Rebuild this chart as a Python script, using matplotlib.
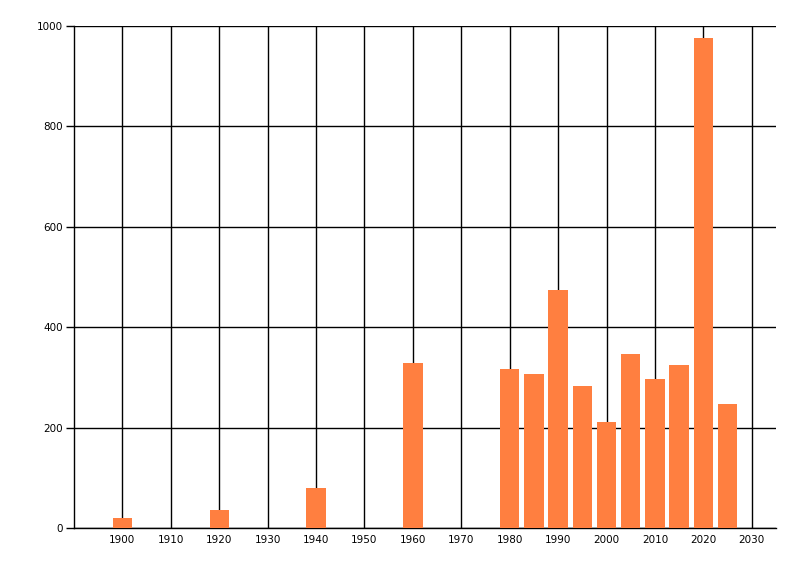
import matplotlib.pyplot as plt
import numpy as np

years = [1900, 1920, 1940, 1960, 1980, 1985, 1990, 1995, 2000, 2005, 2010, 2015, 2020, 2025]
counts = [20, 36, 80, 329, 317, 307, 474, 283, 212, 347, 297, 325, 977, 247]
xticks = list(range(1900, 2031, 10))
yticks = [0, 200, 400, 600, 800, 1000]

fig = plt.figure(figsize=(8, 5.76), dpi=100)
ax = fig.add_axes([0.0925, 0.0828, 0.8775, 0.8721])

ax.bar(years, counts, width=4.0, color='#FF7F40', zorder=3)

ax.set_xlim(1890, 2035)
ax.set_ylim(0, 1000)
ax.set_xticks(xticks)
ax.set_yticks(yticks)
ax.grid(True, color='black', linewidth=1.0, zorder=0)
ax.set_axisbelow(True)

for side in ['top', 'right']:
	ax.spines[side].set_visible(False)
for side in ['left', 'bottom']:
	ax.spines[side].set_linewidth(1.0)

ax.tick_params(axis='x', length=0, pad=5, labelsize=7.5)
ax.tick_params(axis='y', length=6, width=1.0, pad=2, labelsize=7.5)

plt.savefig('out.png', dpi=100)
